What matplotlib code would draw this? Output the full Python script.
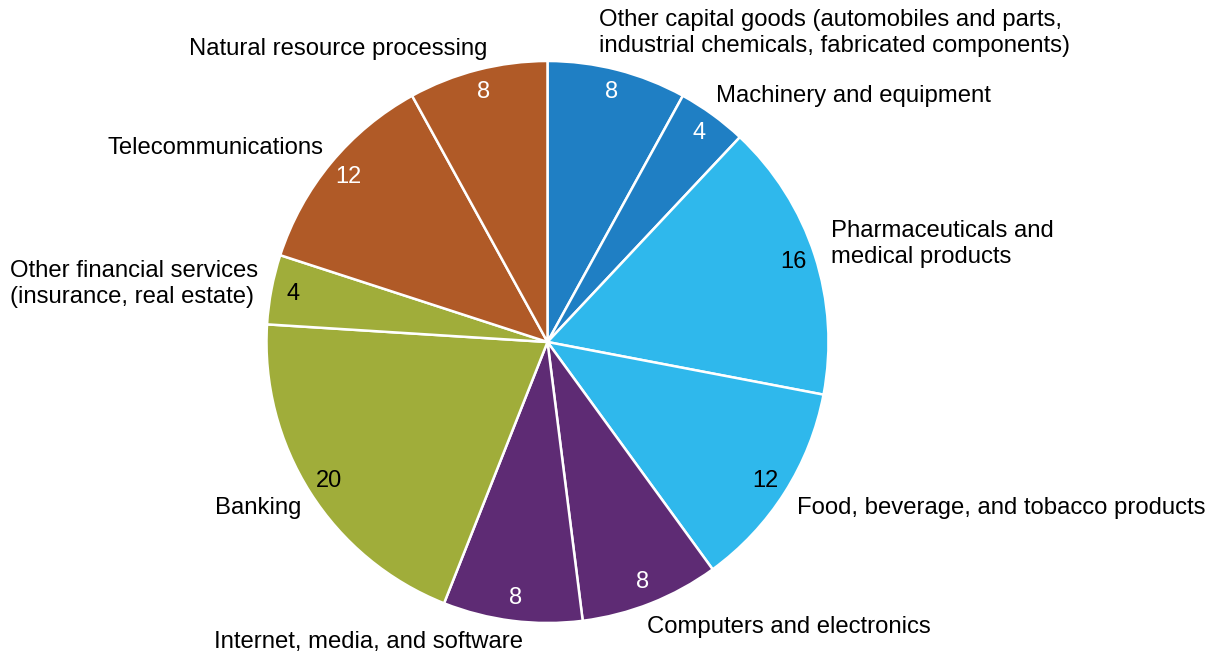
import matplotlib
matplotlib.use("Agg")
import matplotlib.pyplot as plt
import numpy as np

plt.rcParams['font.family'] = ['Liberation Sans', 'DejaVu Sans']

categories = [
    "Other capital goods (automobiles and parts,\nindustrial chemicals, fabricated components)",
    "Machinery and equipment",
    "Pharmaceuticals and\nmedical products",
    "Food, beverage, and tobacco products",
    "Computers and electronics",
    "Internet, media, and software",
    "Banking",
    "Other financial services\n(insurance, real estate)",
    "Telecommunications",
    "Natural resource processing",
]
values = [8, 4, 16, 12, 8, 8, 20, 4, 12, 8]
colors = ["#1F7FC4", "#1F7FC4", "#2FB8EC", "#2FB8EC", "#5E2B74", "#5E2B74",
          "#A0AD3A", "#A0AD3A", "#B05A27", "#B05A27"]
value_colors = ["white", "white", "black", "black", "white", "white",
                "black", "black", "white", "white"]

# label placement (figure pixel coords from top-left) and alignment
label_pos = [
    (599, 33, 'left'),
    (716, 96, 'left'),
    (831, 244, 'left'),
    (797, 508, 'left'),
    (647, 627, 'left'),
    (214, 642, 'left'),
    (301, 508, 'right'),
    (10, 284, 'left'),
    (324, 148, 'right'),
    (487, 49, 'right'),
]

W, H = 1224, 657
fig = plt.figure(figsize=(W / 100, H / 100), dpi=100)
cx, cy, r = 547.5, 342, 281
ax = fig.add_axes([(cx - r) / W, (H - cy - r) / H, 2 * r / W, 2 * r / H])

wedges, texts = ax.pie(values, colors=colors, startangle=90, counterclock=False,
                       wedgeprops=dict(edgecolor='white', linewidth=1.8),
                       labels=[str(v) for v in values], labeldistance=0.92,
                       textprops=dict(fontsize=17))
for t, c in zip(texts, value_colors):
    t.set_color(c)
    t.set_ha('center')
    t.set_va('center')
ax.set_xlim(-1, 1)
ax.set_ylim(-1, 1)
ax.set_aspect('equal')
ax.axis('off')

for lab, (x, y, ha) in zip(categories, label_pos):
    fig.text(x / W, 1 - y / H, lab, ha=ha, va='center', fontsize=17.2,
             color='black', linespacing=1.25, multialignment='left')

fig.savefig("out.png", dpi=100)
